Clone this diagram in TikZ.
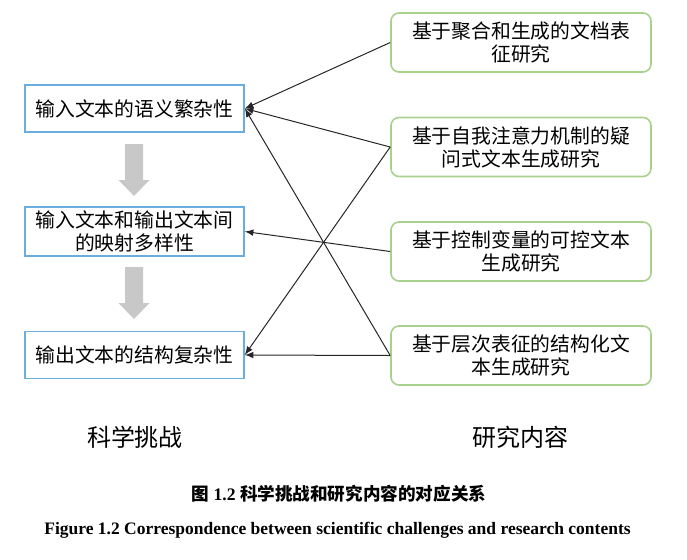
\documentclass[tikz,border=0pt]{standalone}
\usepackage{fontspec}
\usepackage{xcolor}
\setmainfont{Liberation Serif}
\newfontfamily\cjk{Noto Sans CJK SC}
\definecolor{challengeblue}{HTML}{6AAEE0}
\definecolor{contentgreen}{HTML}{A9D18E}
\definecolor{flowgray}{HTML}{C8C8C8}
% gray block arrow pointing down, #1 = top centre
\newcommand{\flowarrow}[1]{%
  \fill[flowgray] #1 ++(-9,0) -- ++(18,0) -- ++(0,36) -- ++(6.5,0) -- ++(-15.5,16)
    -- ++(-15.5,-16) -- ++(6.5,0) -- cycle;}

\begin{document}
\begin{tikzpicture}[
  x=0.5pt, y=-0.5pt,
  every node/.style={inner sep=0pt, font=\cjk\fontsize{9.9}{11.5}\selectfont, align=center},
  challenge/.style={draw=challengeblue, line width=0.8pt, minimum width=109.5pt, minimum height=23.5pt},
  content/.style={draw=contentgreen, line width=0.8pt, rounded corners=4pt, minimum width=130pt, minimum height=29.5pt},
  link/.style={-latex, line width=0.5pt, black!85}
]
\useasboundingbox (0,0) rectangle (687,559);

% challenges
\node[challenge] (semantic) at (134.5,108.5) {输入文本的语义繁杂性};
\node[challenge, minimum height=24.5pt] (mapping) at (134.5,231.5) {输入文本和输出文本间\\的映射多样性};
\node[challenge] (structure) at (134.5,355) {输出文本的结构复杂性};
\flowarrow{(134,144)}
\flowarrow{(134,267)}

% research contents
\node[content] (docrep) at (521,42.5) {基于聚合和生成的文档表\\征研究};
\node[content] (question) at (521,147) {基于自我注意力机制的疑\\问式文本生成研究};
\node[content] (controlled) at (521,251.5) {基于控制变量的可控文本\\生成研究};
\node[content] (hierarchy) at (521,355.5) {基于层次表征的结构化文\\本生成研究};

% links
\draw[link] (docrep.west) -- (semantic.east);
\draw[link] (question.west) -- (semantic.east);
\draw[link] (question.west) -- (structure.east);
\draw[link] (controlled.west) -- (mapping.east);
\draw[link] (hierarchy.west) -- (semantic.east);
\draw[link] (hierarchy.west) -- (structure.east);

% titles
\node[font=\cjk\fontsize{12}{14}\selectfont] (lefttitle) at (135,437) {科学挑战};
\node[font=\cjk\fontsize{12}{14}\selectfont] (righttitle) at (520,437) {研究内容};
\node[font=\fontsize{8.8}{10}\selectfont\bfseries] (cncaption) at (339,494) {{\cjk 图} 1.2 {\cjk 科学挑战和研究内容的对应关系}};
\node[font=\fontsize{8.75}{10}\selectfont\bfseries] (encaption) at (337.5,530) {Figure 1.2 Correspondence between scientific challenges and research contents};
\end{tikzpicture}
\end{document}
